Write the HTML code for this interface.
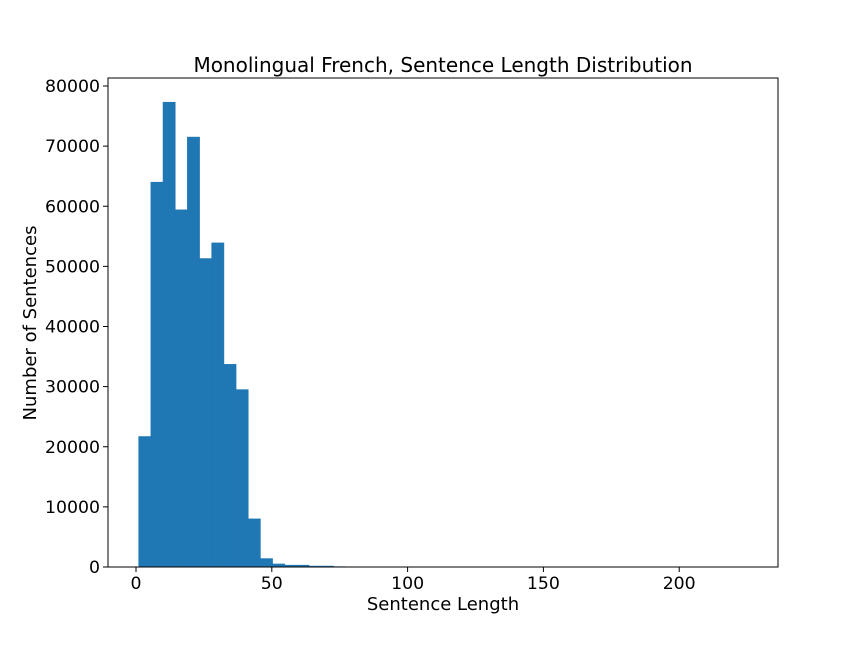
<!DOCTYPE html>
<html><head><meta charset="utf-8"><style>body{margin:0;background:#fff}svg text{font-family:"DejaVu Sans","Liberation Sans",sans-serif;fill:#000}</style></head>
<body>
<svg id="c" width="864" height="648" xmlns="http://www.w3.org/2000/svg">
<rect width="864" height="648" fill="#fff"/>
<text x="443" y="72" font-size="20" text-anchor="middle">Monolingual French, Sentence Length Distribution</text>
<text x="443" y="610" font-size="18" text-anchor="middle">Sentence Length</text>
<text transform="translate(36,323) rotate(-90)" font-size="18" text-anchor="middle">Number of Sentences</text>
<g id="bars"></g><g id="ticks"></g>
<rect x="108" y="78" width="670" height="489" fill="none" stroke="#000" stroke-width="1"/>
</svg>
<script>
const binStart = 1;
const binWidth = 4.48;
const counts = [21700,64000,77300,59400,71500,51300,53900,33700,29500,8000,1400,500,300,300,150,150,50,0,0,0,0,0,0,0,0,0,0,0,0,0,0,0,0,0,0,0,0,0,0,0,0,0,0,0,0,0,0,0,0,0];
const xTicks = [0,50,100,150,200];
const yTicks = [0,10000,20000,30000,40000,50000,60000,70000,80000];
const X = v => 136 + v * 2.716;
const Y = v => 567 - v * 481 / 80000;
const ns = "http://www.w3.org/2000/svg";
const bars = document.getElementById('bars'), ticks = document.getElementById('ticks');
counts.forEach((c, i) => {
  if (c <= 0) return;
  const r = document.createElementNS(ns, 'rect');
  const x0 = X(binStart + i * binWidth), x1 = X(binStart + (i + 1) * binWidth);
  r.setAttribute('x', x0); r.setAttribute('width', x1 - x0);
  r.setAttribute('y', Y(c)); r.setAttribute('height', Y(0) - Y(c));
  r.setAttribute('fill', '#1f77b4');
  r.setAttribute('stroke', '#1f77b4');
  r.setAttribute('stroke-width', '0.6');
  
  
  bars.appendChild(r);
});
xTicks.forEach(t => {
  const l = document.createElementNS(ns, 'line');
  l.setAttribute('x1', X(t)); l.setAttribute('x2', X(t)); l.setAttribute('y1', 567); l.setAttribute('y2', 572); l.setAttribute('stroke', '#000');
  
  
  ticks.appendChild(l);
  const tx = document.createElementNS(ns, 'text');
  tx.setAttribute('x', X(t)); tx.setAttribute('y', 589); tx.setAttribute('font-size', '17.3'); tx.setAttribute('text-anchor', 'middle');
  tx.textContent = t;
  
  
  ticks.appendChild(tx);
});
yTicks.forEach(t => {
  const l = document.createElementNS(ns, 'line');
  l.setAttribute('x1', 103); l.setAttribute('x2', 108); l.setAttribute('y1', Y(t)); l.setAttribute('y2', Y(t)); l.setAttribute('stroke', '#000');
  
  
  ticks.appendChild(l);
  const tx = document.createElementNS(ns, 'text');
  tx.setAttribute('x', 100); tx.setAttribute('y', Y(t) + 6); tx.setAttribute('font-size', '17.3'); tx.setAttribute('text-anchor', 'end');
  tx.textContent = t;
  
  
  ticks.appendChild(tx);
});
</script>
</body></html>
